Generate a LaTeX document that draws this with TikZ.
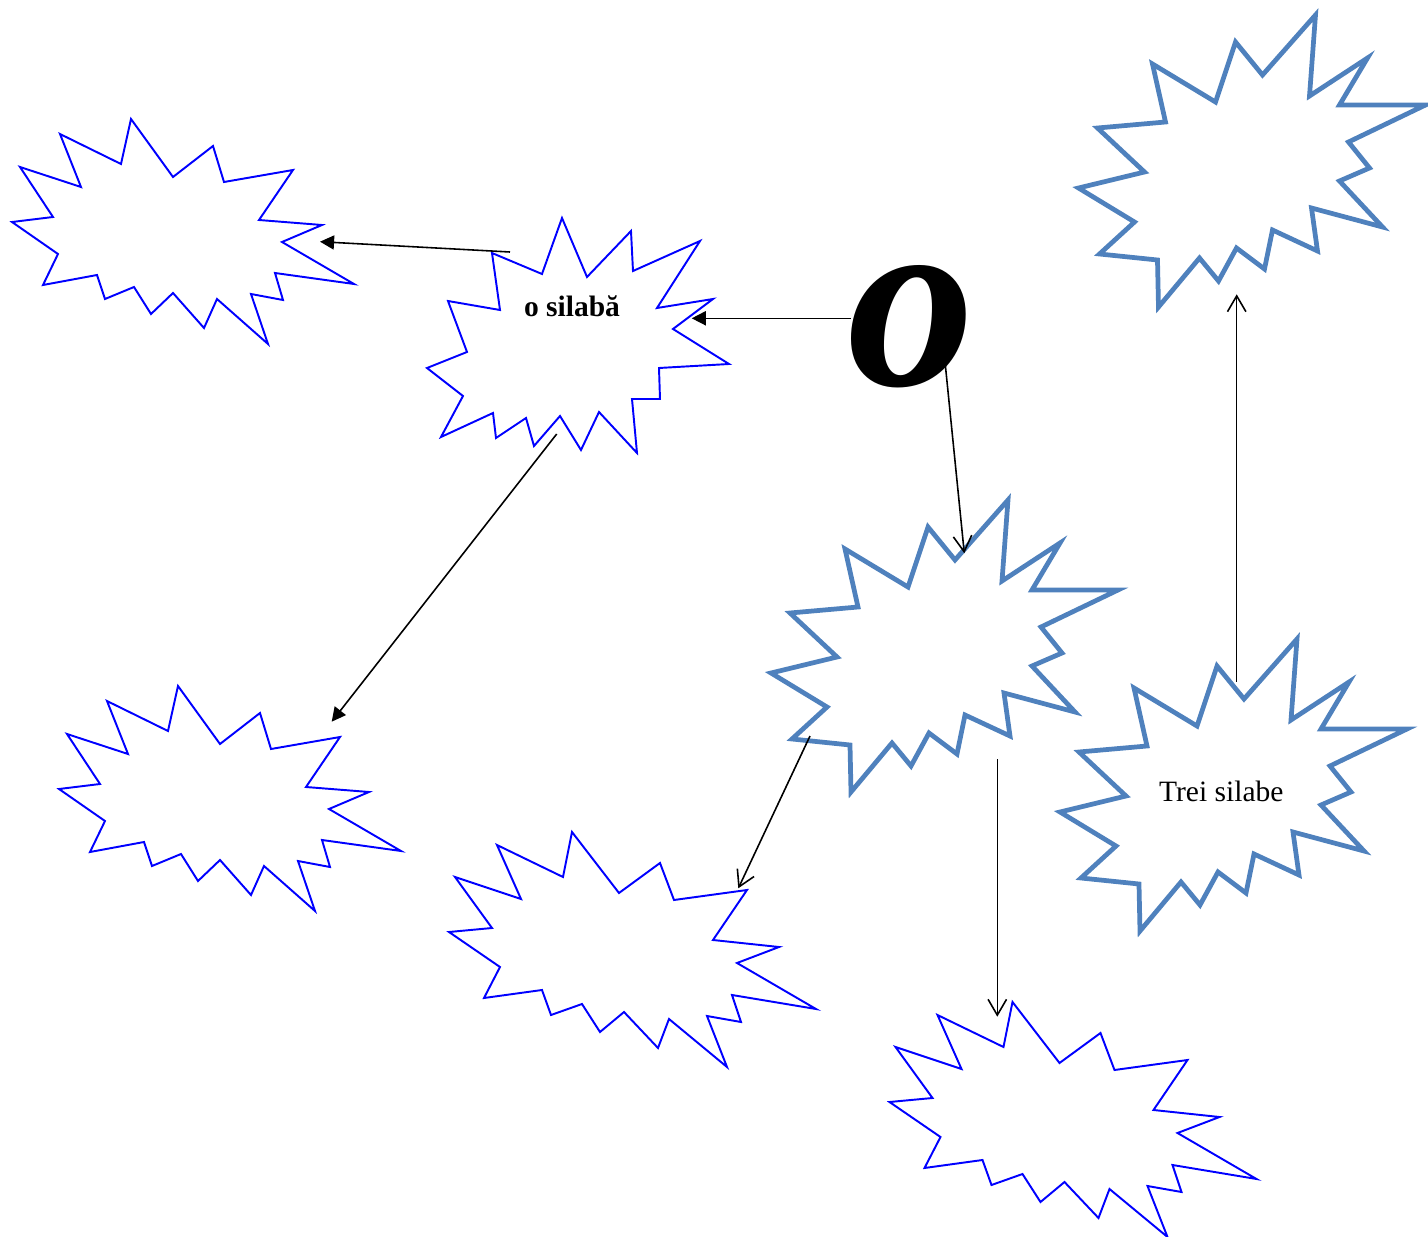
\documentclass[tikz,border=0pt]{standalone}
\usepackage{fontspec}
\setmainfont{Liberation Serif}
\usetikzlibrary{arrows.meta}
\definecolor{seal-blue}{RGB}{0,0,255}
\definecolor{seal-steel}{RGB}{79,129,189}

\tikzset{
  thinseal/.style={draw=seal-blue, line width=1.1pt},
  thickseal/.style={draw=seal-steel, line width=2.7pt},
  fullarrow/.style={line width=0.9pt, -{Triangle[length=8pt,width=8pt]}},
  openarrow/.style={line width=0.9pt, -{Straight Barb[length=9pt,width=10.5pt]}},
  labeltext/.style={font=\fontsize{16.8}{20}\selectfont, anchor=base, inner sep=0pt},
  small explosion/.pic={
    \draw[thinseal] (131,119) -- (173,177) -- (213,146) -- (224,182) -- (293,170) -- (259,220) -- (322,225)
      -- (282,242) -- (354,284) -- (275,273) -- (283,300) -- (251,294) -- (268,344) -- (217,299)
      -- (204,328) -- (173,293) -- (151,314) -- (134,287) -- (105,299) -- (97,275) -- (43,285)
      -- (58,254) -- (12,222) -- (53,217) -- (20,167) -- (81,187) -- (60,134) -- (121,164) -- cycle;
  },
  wide explosion/.pic={
    \draw[thinseal] (572,832) -- (619,893) -- (660,863) -- (674,900) -- (747,890) -- (713,940) -- (779,947)
      -- (737,963) -- (816,1009) -- (732,995) -- (741,1022) -- (707,1016) -- (727,1067) -- (669,1019)
      -- (658,1048) -- (624,1012) -- (600,1032) -- (582,1004) -- (551,1015) -- (542,990) -- (484,998)
      -- (500,967) -- (449,932) -- (492,928) -- (455,877) -- (521,899) -- (497,845) -- (563,877) -- cycle;
  },
  big explosion/.pic={
    \draw[thickseal] (1008,500) -- (1002,581) -- (1060,543) -- (1032,590) -- (1118,590) -- (1041,627) -- (1062,653)
      -- (1032,666) -- (1075,712) -- (1004,693) -- (1010,736) -- (965,715) -- (957,754) -- (929,733)
      -- (911,766) -- (892,743) -- (851,792) -- (850,745) -- (792,739) -- (827,707) -- (771,673)
      -- (837,657) -- (790,613) -- (858,607) -- (845,549) -- (908,587) -- (928,527) -- (955,560) -- cycle;
  }
}

\begin{document}
\begin{tikzpicture}[x=0.02cm, y=-0.02cm]
\useasboundingbox (0,0) rectangle (1428,1237);

\pic at (0,0) {small explosion};
\pic at (47,567) {small explosion};
\pic at (0,0) {wide explosion};
\pic at (440.5,170) {wide explosion};
\pic at (0,0) {big explosion};
\pic at (289,139) {big explosion};
\pic at (307.5,-485) {big explosion};

\draw[thinseal] (562,218) -- (587,277) -- (631,231) -- (633,271) -- (700,241) -- (657,308) -- (713,299)
  -- (673,329) -- (729,364) -- (659,368) -- (660,399) -- (632,399) -- (637,453) -- (599,412)
  -- (581,450) -- (560,416) -- (534,446) -- (526,418) -- (496,438) -- (493,413) -- (441,437)
  -- (463,396) -- (427,368) -- (467,352) -- (448,301) -- (500,310) -- (492,253) -- (542,274) -- cycle;

\node[labeltext, font=\fontsize{16.8}{20}\selectfont\bfseries] (silaba) at (572,316.7) {o silabă};
\node[labeltext] (trei) at (1221.3,801.7) {Trei silabe};
\node[font=\fontsize{145}{150}\selectfont\bfseries\itshape, anchor=base, inner sep=0pt] (oo) at (911,385) {o};

\coordinate (silaba-st) at (510,252);
\coordinate (stanga-sus) at (320,241.7);
\coordinate (oo-st) at (850.7,318.3);
\coordinate (silaba-dr) at (691.7,318.3);
\coordinate (oo-jos) at (945,361.7);
\coordinate (mijloc-sus) at (964.3,553.3);
\coordinate (silaba-jos) at (556.7,434);
\coordinate (stanga-jos) at (331.7,721.7);
\coordinate (mijloc-st) at (810,736);
\coordinate (jos-mijloc) at (738.3,888.3);
\coordinate (mijloc-jos) at (997.3,759);
\coordinate (jos-dr) at (997.3,1016.7);
\coordinate (trei-sus) at (1236.7,681.7);
\coordinate (dreapta-sus) at (1236.7,294.3);

\draw[fullarrow] (silaba-st) -- (stanga-sus);
\draw[fullarrow] (oo-st) -- (silaba-dr);
\draw[fullarrow] (silaba-jos) -- (stanga-jos);
\draw[openarrow] (oo-jos) -- (mijloc-sus);
\draw[openarrow] (mijloc-st) -- (jos-mijloc);
\draw[openarrow] (mijloc-jos) -- (jos-dr);
\draw[openarrow] (trei-sus) -- (dreapta-sus);
\end{tikzpicture}
\end{document}
